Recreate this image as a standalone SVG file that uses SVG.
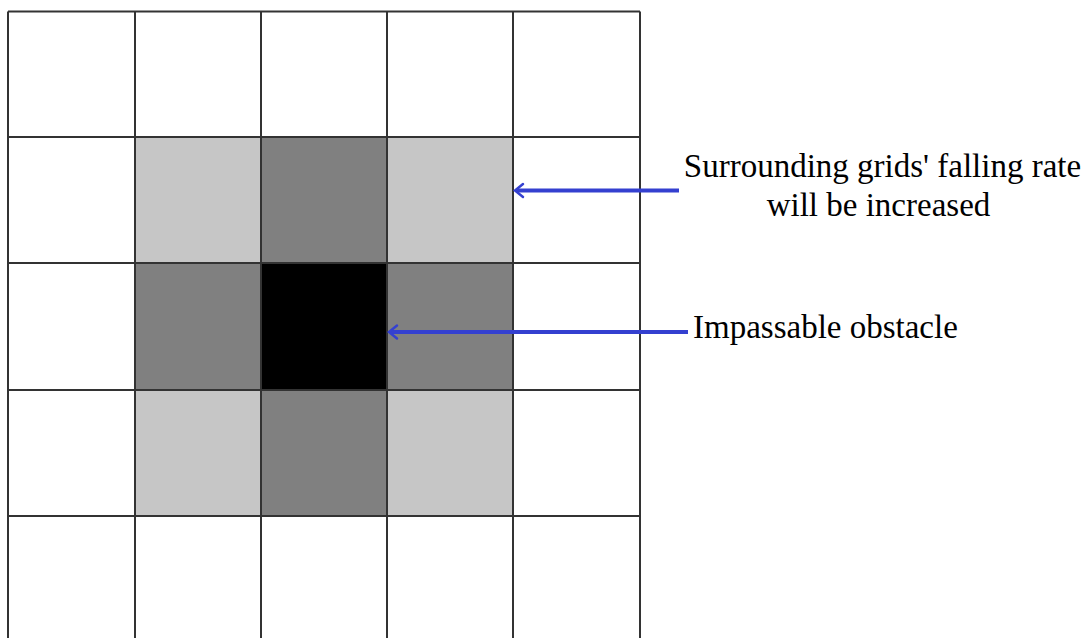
<svg xmlns="http://www.w3.org/2000/svg" width="1084" height="638" viewBox="0 0 1084 638">
<defs>
<style>
.light{fill:#c6c6c6}
.dark{fill:#808080}
.black{fill:#000}
.grid{stroke:#333;stroke-width:2;fill:none}
.conn{stroke:#3440d0;stroke-width:4;fill:none}
.head{stroke:#3440d0;stroke-width:2.5;fill:none;stroke-linecap:round}
.lbl{font-family:"Liberation Serif","Times New Roman",serif;font-size:33px;fill:#000}
</style>
</defs>
<rect width="1084" height="638" fill="#fff"/>
<g id="cells">
<rect class="light" x="135" y="137" width="126" height="126"/>
<rect class="dark" x="261" y="137" width="126" height="126"/>
<rect class="light" x="387" y="137" width="126" height="126"/>
<rect class="dark" x="135" y="263" width="126" height="127"/>
<rect class="black" x="261" y="263" width="126" height="127"/>
<rect class="dark" x="387" y="263" width="126" height="127"/>
<rect class="light" x="135" y="390" width="126" height="126"/>
<rect class="dark" x="261" y="390" width="126" height="126"/>
<rect class="light" x="387" y="390" width="126" height="126"/>
</g>
<g id="grid" class="grid">
<path d="M8,11.5V640 M135,11.5V640 M261,11.5V640 M387,11.5V640 M513,11.5V640 M640,11.5V640"/>
<path d="M8,11.5H640 M8,137H640 M8,263H640 M8,390H640 M8,516H640"/>
</g>
<g id="connectors">
<path class="conn" d="M679,190.5H516"/>
<path class="head" d="M523,184L515,190.5L523,197"/>
<path class="conn" d="M688,332H390"/>
<path class="head" d="M397,325.5L389,332L397,338.5"/>
</g>
<g id="label-surrounding">
<text class="lbl" text-anchor="middle" x="882.5" y="177">Surrounding grids' falling rate</text>
<text class="lbl" text-anchor="middle" x="878.5" y="216">will be increased</text>
</g>
<g id="label-obstacle">
<text class="lbl" x="693" y="338">Impassable obstacle</text>
</g>
</svg>
